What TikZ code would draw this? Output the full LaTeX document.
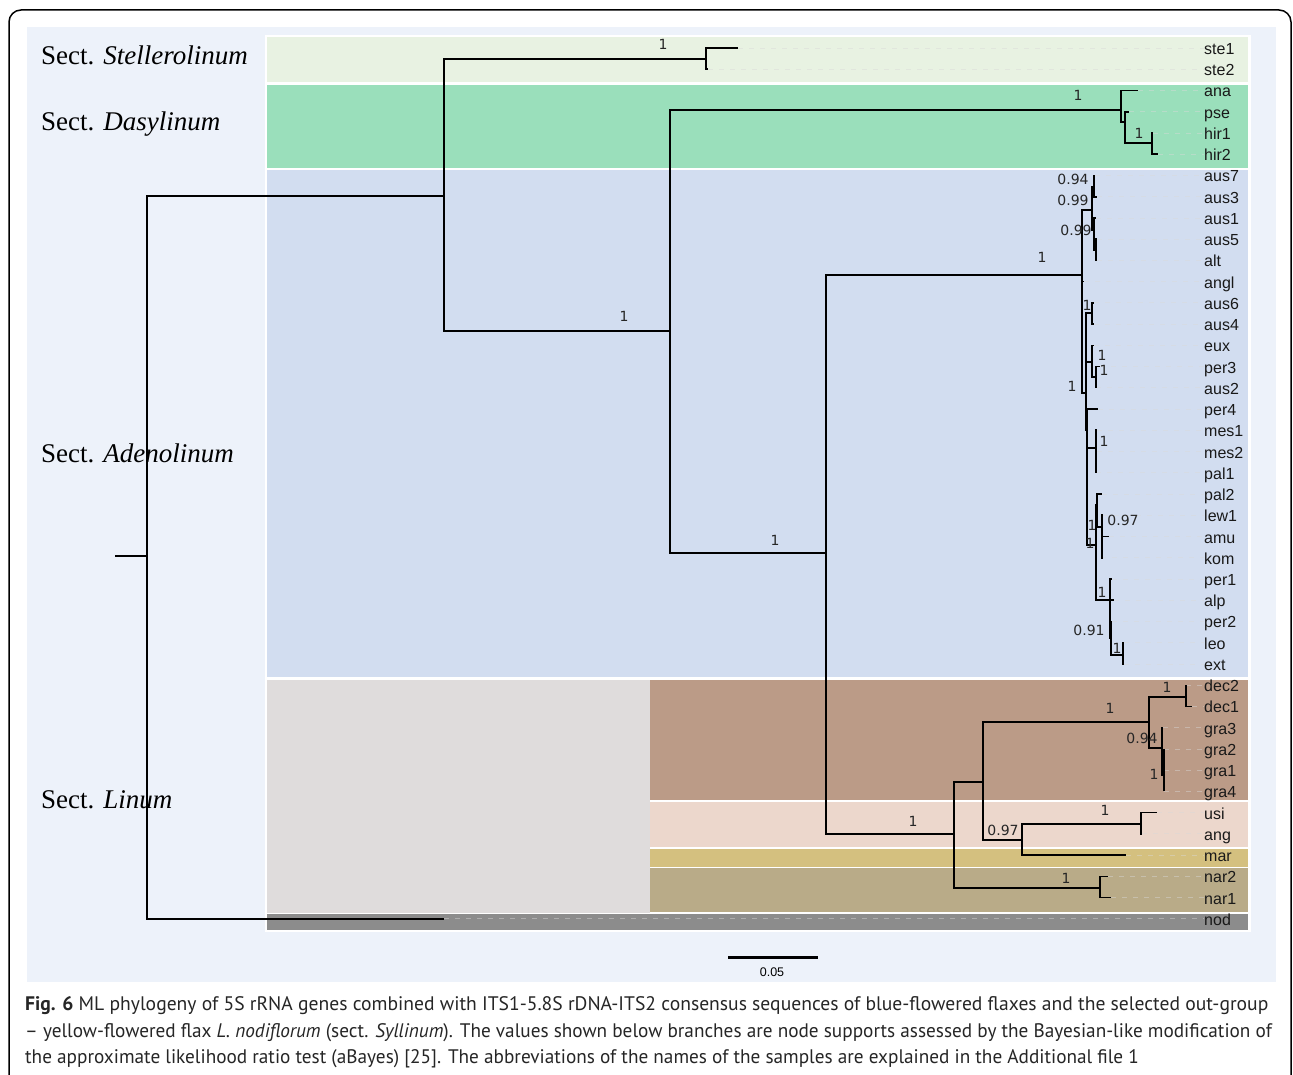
\documentclass[tikz,border=0pt]{standalone}
\usepackage{fontspec}
\setmainfont{Liberation Serif}
\newfontfamily\tipfont{Liberation Sans}
\newfontfamily\supfont{DejaVu Sans}
\newfontfamily\capfont{PT Sans}
\definecolor{bglight}{HTML}{EDF2FA}
\definecolor{steband}{HTML}{E8F2E2}
\definecolor{dasband}{HTML}{9ADFBB}
\definecolor{adband}{HTML}{D2DDF0}
\definecolor{lingrey}{HTML}{DFDCDC}
\definecolor{brownband}{HTML}{BB9B87}
\definecolor{pinkband}{HTML}{ECD7CC}
\definecolor{marband}{HTML}{D4C07F}
\definecolor{narband}{HTML}{B9AB88}
\definecolor{nodband}{HTML}{8C8C8C}
\definecolor{captext}{HTML}{262626}
\tikzset{
  br/.style={line width=1.7pt, black, line join=miter},
  guide/.style={draw=white!70!gray, opacity=0.45, line width=0.8pt, dash pattern=on 5pt off 6pt},
  tiplab/.style={anchor=west, inner sep=0pt, text height=11pt, text depth=3pt, text=black!90, font=\tipfont\fontsize{16}{16}\selectfont},
  suplab/.style={inner sep=0pt, text height=10pt, text depth=0pt, text=black!85, font=\supfont\fontsize{14}{14}\selectfont},
  sectlab/.style={anchor=west, inner sep=0pt, font=\fontsize{27}{27}\selectfont},
  capline/.style={anchor=west, inner sep=0pt, text=captext, font=\capfont\fontsize{19.6}{19.6}\selectfont}
}
\begin{document}
\begin{tikzpicture}[x=1pt,y=-1pt]
\useasboundingbox (0,0) rectangle (1293,1075);
\fill[white] (0,0) rectangle (1293,1075);
% frame
\draw[line width=1.5pt, rounded corners=12pt] (9,1080) -- (9,10) -- (1291,10) -- (1291,1080);
\fill[bglight] (27,27) rectangle (1276,982);
\fill[white] (265,35) rectangle (1251,932);
% bands
\fill[steband] (267,37) rectangle (1248,82);
\fill[dasband] (267,85) rectangle (1248,168);
\fill[adband] (267,170) rectangle (1248,677);
\fill[lingrey] (267,680) rectangle (650,913);
\fill[brownband] (650,680) rectangle (1248,800);
\fill[pinkband] (650,802) rectangle (1248,847);
\fill[marband] (650,849) rectangle (1248,867);
\fill[narband] (650,868) rectangle (1248,912);
\fill[nodband] (267,914) rectangle (1248,930);
% section labels
\node[sectlab] (secS) at (41,55) {Sect. \textit{Stellerolinum}};
\node[sectlab] (secD) at (41,124) {Sect. \textit{Dasylinum}};
\node[sectlab] (secA) at (41,453) {Sect. \textit{Adenolinum}};
\node[sectlab] (secL) at (41,800) {Sect. \textit{Linum}};
% tips
\foreach \nm/\tx [count=\i from 0] in {ste1/738,ste2/708,ana/1138,pse/1129,hir1/1153,hir2/1158,
  aus7/1095,aus3/1097,aus1/1096,aus5/1097,alt/1097,angl/1084,aus6/1094,aus4/1094,eux/1094,
  per3/1100,aus2/1096,per4/1098,mes1/1097,mes2/1097,pal1/1096,pal2/1102,lew1/1103,amu/1109,
  kom/1101,per1/1112,alp/1114,per2/1112,leo/1124,ext/1124,dec2/1186,dec1/1192,gra3/1163,
  gra2/1164,gra1/1164,gra4/1164,usi/1157,ang/1142,mar/1126,nar2/1108,nar1/1111,nod/444}{
  \pgfmathsetmacro\ty{48+21.24*\i}
  \pgfmathsetmacro\ly{\ty+2.5}
  \coordinate (\nm) at (\tx,\ty);
  \node[tiplab] (L\nm) at (1204,\ly) {\nm};
  \draw[guide] (\nm) -- (L\nm.west |- \nm);
}
% internal nodes
\coordinate (r0) at (115,556);
\coordinate (r) at (147,556);
\coordinate (n1) at (444,196);
\coordinate (nste) at (706,59);
\coordinate (n2) at (670,331);
\coordinate (ndas) at (1121,110);
\coordinate (ndas2) at (1125,122);
\coordinate (nhir) at (1152,143);
\coordinate (n3) at (826,553);
\coordinate (nad) at (1082,275);
\coordinate (na1) at (1092,210);
\coordinate (na73) at (1094,187);
\coordinate (na15) at (1094,230);
\coordinate (na5) at (1096,250);
\coordinate (na2) at (1086,393);
\coordinate (na64) at (1092,313);
\coordinate (neux) at (1092,362);
\coordinate (np3) at (1096,377);
\coordinate (na3) at (1087,430);
\coordinate (nmes) at (1096,448);
\coordinate (nb) at (1096,545);
\coordinate (npl) at (1097,505);
\coordinate (nlak) at (1102,527);
\coordinate (npa) at (1110,600);
\coordinate (npl2) at (1111,638);
\coordinate (nle) at (1123,655);
\coordinate (nlin) at (954,834);
\coordinate (nlin2) at (983,782);
\coordinate (ndg) at (1149,722);
\coordinate (ndec) at (1186,697);
\coordinate (ngra) at (1162,748);
\coordinate (ngra2) at (1164,775);
\coordinate (num) at (1022,840);
\coordinate (nua) at (1141,824);
\coordinate (nnar) at (1100,888);
% branches
\draw[br] (r0) -- (r);
\foreach \p/\c in {r/nod,r/n1,n1/nste,n1/n2,nste/ste1,nste/ste2,n2/ndas,n2/n3,
  ndas/ana,ndas/ndas2,ndas2/pse,ndas2/nhir,nhir/hir1,nhir/hir2,
  n3/nad,n3/nlin,nad/na1,nad/angl,nad/na2,na1/na73,na1/na15,na73/aus7,na73/aus3,
  na15/aus1,na15/na5,na5/aus5,na5/alt,na2/na64,na2/neux,na2/na3,na64/aus6,na64/aus4,
  neux/eux,neux/np3,np3/per3,np3/aus2,na3/per4,na3/nmes,na3/nb,nmes/mes1,nmes/mes2,nmes/pal1,
  nb/npl,nb/npa,npl/pal2,npl/nlak,nlak/lew1,nlak/amu,nlak/kom,npa/per1,npa/alp,npa/npl2,
  npl2/per2,npl2/nle,nle/leo,nle/ext,nlin/nlin2,nlin/nnar,nlin2/ndg,nlin2/num,
  ndg/ndec,ndg/ngra,ndec/dec2,ndec/dec1,ngra/gra3,ngra/ngra2,ngra2/gra2,ngra2/gra1,ngra2/gra4,
  num/nua,num/mar,nua/usi,nua/ang,nnar/nar2,nnar/nar1}{
  \draw[br] (\p) |- (\c);
}
% support values
\foreach \t/\x/\y [count=\k] in {1/663/45,1/1078/96,1/1139/134,1/624/316,0.94/1073/180,
  0.99/1073/201,0.99/1076/231,1/1042/258,1/1087/305,1/1102/355,1/1104/370,1/1072/386,
  1/1104/441,1/1092/525,0.97/1123/520,1/1090/543,1/775/540,1/1102/592,0.91/1089/630,
  1/1117/648,1/1167/687,1/1110/708,0.94/1142/738,1/1154/774,1/1105/810,0.97/1003/830,
  1/913/821,1/1066/878}{
  \node[suplab] (s\k) at (\x,\y) {\t};
}
% scale bar
\coordinate (sb1) at (728,957);
\coordinate (sb2) at (818,957);
\draw[line width=3pt] (sb1) -- (sb2);
\node[inner sep=0pt, font=\tipfont\fontsize{12.5}{12.5}\selectfont] (sblab) at (772,972) {0.05};
% caption
\node[capline] (cap1) at (25,1006) {\textbf{Fig. 6} ML phylogeny of 5S rRNA genes combined with ITS1-5.8S rDNA-ITS2 consensus sequences of blue-flowered flaxes and the selected out-group};
\node[capline] (cap2) at (25,1033) {\scalebox{0.982}[1]{– yellow-flowered flax \textit{L. nodiflorum} (sect. \textit{Syllinum}). The values shown below branches are node supports assessed by the Bayesian-like modification of}};
\node[capline] (cap3) at (25,1059) {\scalebox{0.982}[1]{the approximate likelihood ratio test (aBayes) [25]. The abbreviations of the names of the samples are explained in the Additional file 1}};
\end{tikzpicture}
\end{document}
